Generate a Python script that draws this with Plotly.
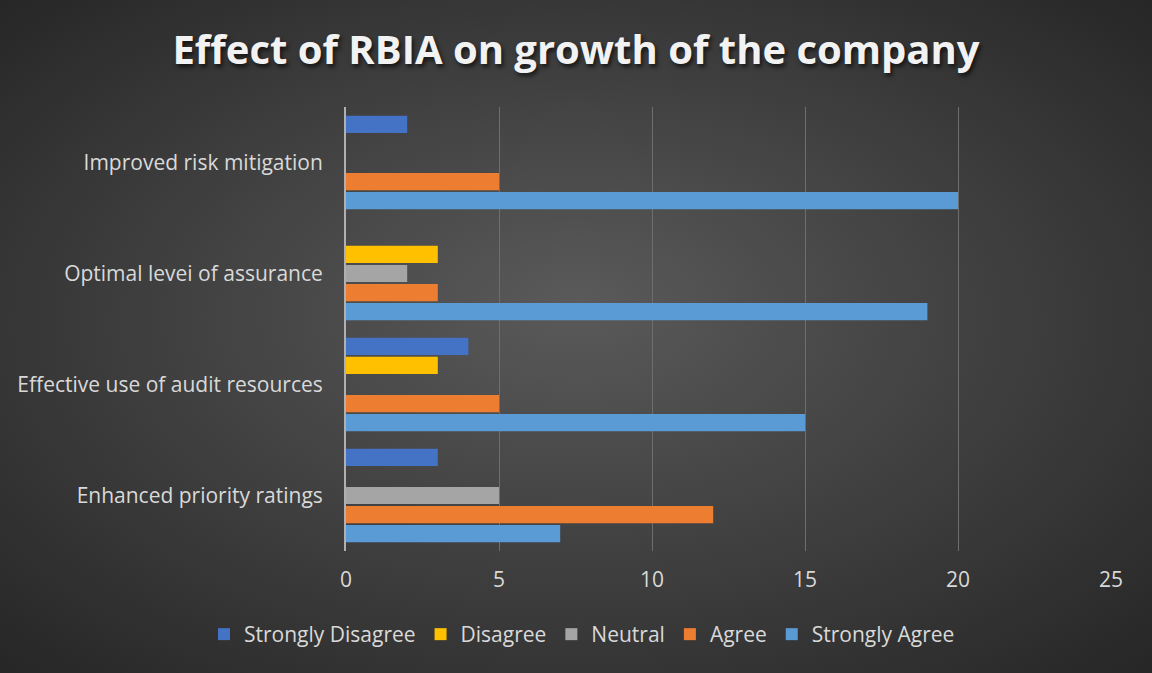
import base64
import plotly.graph_objects as go

# Survey responses per statement (bottom to top on the chart)
categories = [
    "Enhanced priority ratings",
    "Effective use of audit resources",
    "Optimal levei of assurance",
    "Improved risk mitigation",
]
strongly_agree = [7, 15, 19, 20]
agree = [12, 5, 3, 5]
neutral = [5, 0, 2, 0]
disagree = [0, 3, 3, 0]
strongly_disagree = [3, 4, 0, 2]

series = [
    ("Strongly Agree", strongly_agree, "#5B9BD5"),
    ("Agree", agree, "#ED7D31"),
    ("Neutral", neutral, "#A5A5A5"),
    ("Disagree", disagree, "#FFC000"),
    ("Strongly Disagree", strongly_disagree, "#4472C4"),
]

W, H = 1152, 673
ML, MR, MT, MB = 346, 41, 107, 122
PW, PH = W - ML - MR, H - MT - MB

# Radial dark-grey backdrop as an inline SVG
svg = f"""<svg xmlns='http://www.w3.org/2000/svg' width='{W}' height='{H}' viewBox='0 0 {W} {H}' preserveAspectRatio='none'>
<defs><radialGradient id='g' cx='50%' cy='50%' r='75%' fx='50%' fy='45%'>
<stop offset='0%' stop-color='#5a5a5a'/>
<stop offset='100%' stop-color='#232323'/>
</radialGradient></defs>
<rect width='{W}' height='{H}' fill='url(#g)'/>
</svg>"""
bg_src = "data:image/svg+xml;base64," + base64.b64encode(svg.encode()).decode()

fig = go.Figure()
for name, vals, color in series:
    fig.add_trace(go.Bar(
        y=categories,
        x=vals,
        name=name,
        orientation="h",
        marker=dict(color=color, line=dict(width=0)),
        hoverinfo="x+name",
    ))

legend_order = ["Strongly Disagree", "Disagree", "Neutral", "Agree", "Strongly Agree"]
for tr in fig.data:
    tr.legendrank = legend_order.index(tr.name) + 1

fig.update_layout(
    width=W,
    height=H,
    barmode="group",
    bargap=0.14,
    bargroupgap=0.1,
    paper_bgcolor="#3a3a3a",
    plot_bgcolor="rgba(0,0,0,0)",
    margin=dict(l=ML, r=MR, t=MT, b=MB),
    font=dict(family="Open Sans, Liberation Sans, sans-serif", color="#D9D9D9", size=21),
    title=dict(
        text="Effect of RBIA on growth of the company",
        x=0.5,
        xanchor="center",
        y=0.925,
        yanchor="middle",
        font=dict(
            family="Open Sans, sans-serif",
            size=40,
            color="#F2F2F2",
            weight="bold",
            shadow="2px 3px 4px rgba(0,0,0,0.65)",
        ),
    ),
    xaxis=dict(
        range=[0, 25],
        dtick=5,
        showgrid=True,
        gridcolor="#6e6e6e",
        gridwidth=1,
        zeroline=False,
        showline=False,
        ticks="",
        ticklabelstandoff=14,
        tickfont=dict(size=21, color="#D9D9D9"),
    ),
    yaxis=dict(
        showgrid=False,
        zeroline=False,
        showline=True,
        linecolor="#B0B0B0",
        linewidth=2,
        ticks="",
        ticklabelstandoff=17,
        tickfont=dict(size=21, color="#D9D9D9"),
    ),
    legend=dict(
        orientation="h",
        x=(582 - ML) / PW,
        xanchor="center",
        y=-(614 - MT - PH) / PH,
        yanchor="top",
        font=dict(size=21, color="#D9D9D9"),
        itemwidth=30,
        bgcolor="rgba(0,0,0,0)",
    ),
    images=[dict(
        source=bg_src,
        xref="paper", yref="paper",
        x=-ML / PW, y=1 + MT / PH,
        sizex=W / PW, sizey=H / PH,
        xanchor="left", yanchor="top",
        sizing="stretch",
        layer="below",
    )],
)

fig.write_html("out.html")
